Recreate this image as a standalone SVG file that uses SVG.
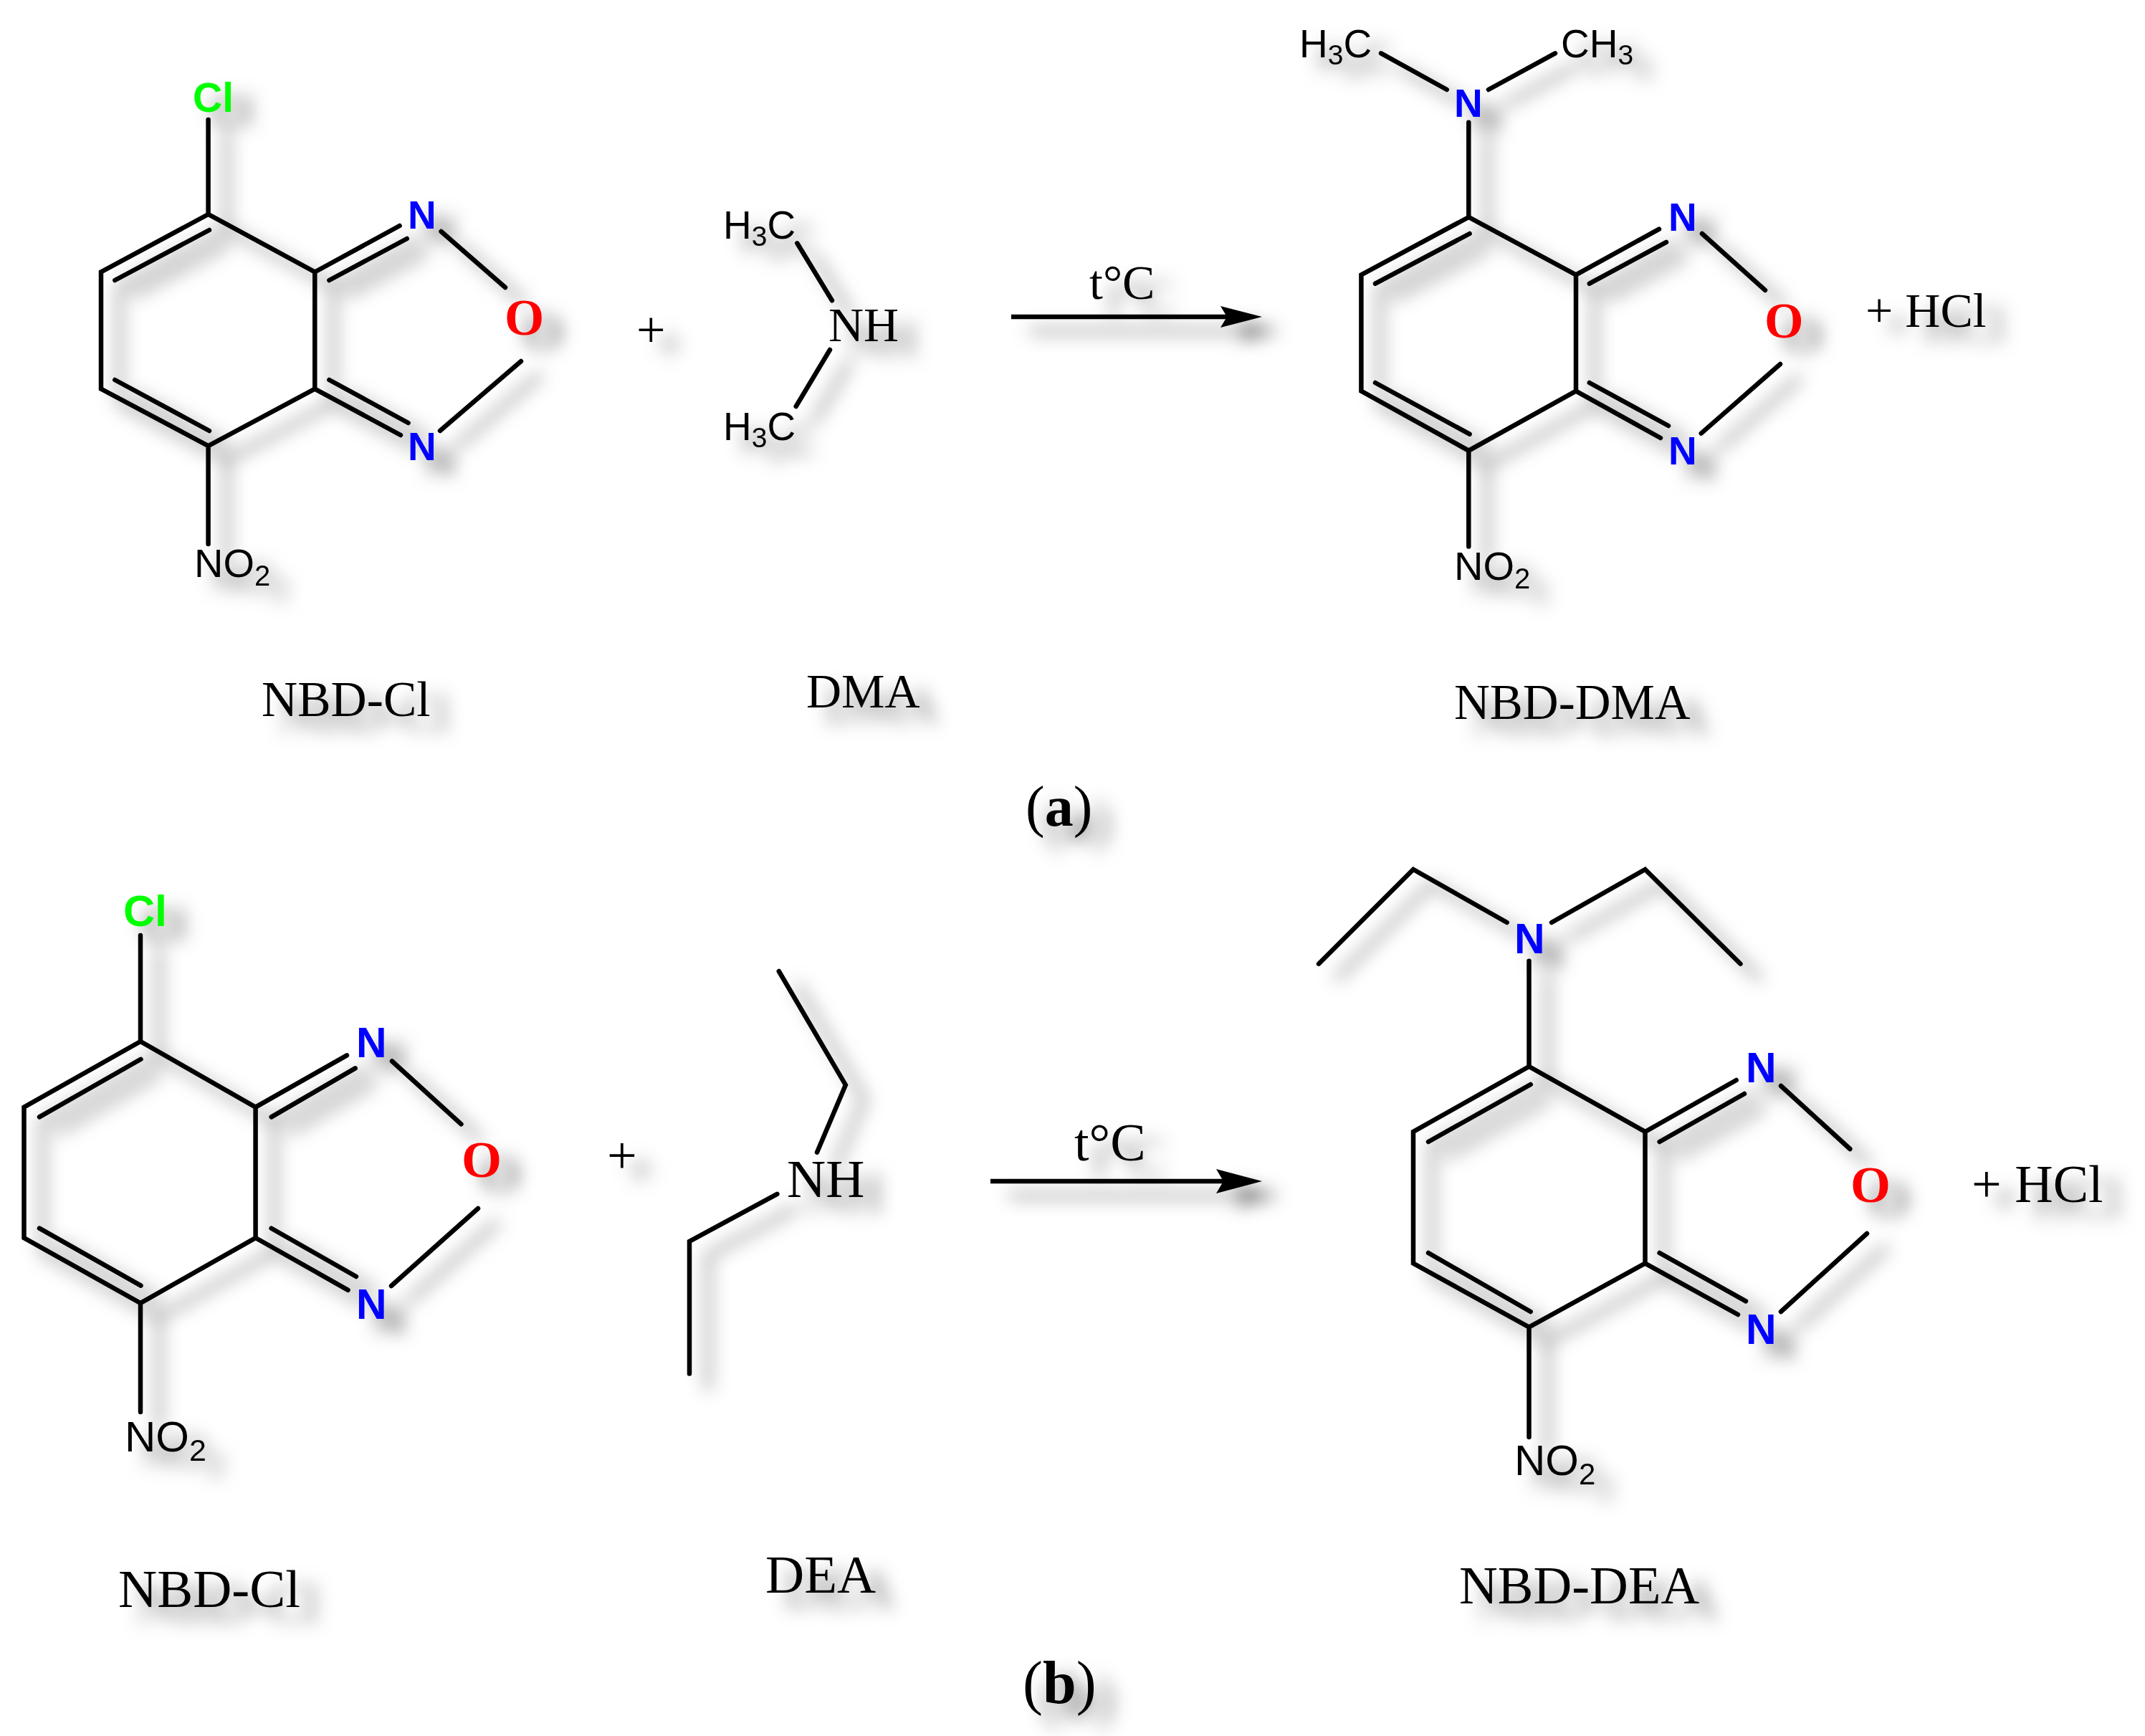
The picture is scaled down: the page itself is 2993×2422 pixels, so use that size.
<svg xmlns="http://www.w3.org/2000/svg" width="2993" height="2422" viewBox="0 0 2993 2422">
<style>
.b{fill:none;stroke:#000;stroke-width:6.5;stroke-linecap:round;stroke-linejoin:miter}
.a{fill:none;stroke:#000;stroke-width:6.5}
.s{font-family:"Liberation Sans",Arial,sans-serif;fill:#000}
.t{font-family:"Liberation Serif","Times New Roman",serif;fill:#000}
.n{font-family:"Liberation Sans",Arial,sans-serif;font-weight:700;fill:#0000ff}
.c{font-family:"Liberation Sans",Arial,sans-serif;font-weight:700;fill:#00ff00}
.o{font-family:"Liberation Serif","Times New Roman",serif;font-weight:700;fill:#ff0000}
.sh{filter:url(#shadow)}
</style>
<defs>
<filter id="shadow" filterUnits="userSpaceOnUse" x="0" y="0" width="2993" height="2422" color-interpolation-filters="sRGB">
<feDropShadow dx="26" dy="20" stdDeviation="12" flood-color="#000" flood-opacity="0.5"/>
</filter>
<marker id="head-a" markerUnits="userSpaceOnUse" markerWidth="60" markerHeight="32" refX="9" refY="16" orient="auto" overflow="visible"><path d="M0 1L9 16L0 31L58 16Z" fill="#000"/></marker>
<marker id="head-b" markerUnits="userSpaceOnUse" markerWidth="66" markerHeight="34" refX="10" refY="17" orient="auto" overflow="visible"><path d="M0 0L10 17L0 34L64 17Z" fill="#000"/></marker>
</defs>
<rect width="2993" height="2422" fill="#fff"/>

<g id="connectors">
<g class="sh"><line class="a" x1="1411" y1="442" x2="1712" y2="442" marker-end="url(#head-a)"/></g>
<g class="sh"><line class="a" x1="1382" y1="1648" x2="1707" y2="1648" marker-end="url(#head-b)"/></g>
</g>

<g id="nbd-cl-a" class="sh">
<path class="b" d="M290.6 299L141 379.5V542.6L290.6 622L439.3 542.6V379.5ZM290.6 167V299M290.6 622V759M160.3 391L292 321M160.3 530L292 601M439.3 379.5L557.6 315M459.4 391L567.8 333M439.3 542.6L559 607M459.4 530L569.6 590M615.6 323L705 401M727 504L614 601"/>
<text class="c" x="269" y="155.6" font-size="57">Cl</text>
<text class="n" x="569" y="319" font-size="55">N</text>
<text class="n" x="569" y="642" font-size="55">N</text>
<text class="o" x="704" y="467" font-size="71">O</text>
<text class="s" x="271" y="805" font-size="56">NO<tspan font-size="40" dy="12">2</tspan></text>
</g>

<g id="dma" class="sh">
<path class="b" d="M1112.3 339.3L1161 419.3M1158 488L1110.7 567"/>
<text class="s" x="1009" y="333.3" font-size="55">H<tspan font-size="39" dy="10">3</tspan><tspan dy="-10">C</tspan></text>
<text class="t" x="1156" y="476" font-size="68">NH</text>
<text class="s" x="1009" y="614" font-size="55">H<tspan font-size="39" dy="10">3</tspan><tspan dy="-10">C</tspan></text>
</g>

<g id="nbd-dma" class="sh">
<path class="b" d="M2049.3 303L1899.4 383.4V545.7L2049.3 628.7L2199 545.7V383.4ZM2049.3 170.7V303M2049.3 628.7V762.6M1919 395.7L2050.6 326M1919 534L2050.6 605.7M2199 383.4L2315 319.6M2217.8 395.7L2325 337.8M2199 545.7L2317 611M2217.8 534L2328 594M2375 326L2463 404.8M2484 508L2373.7 604.6M1927 74.3L2018.8 125M2077 125L2170 74.3"/>
<text class="n" x="2328" y="322" font-size="55">N</text>
<text class="n" x="2328" y="647.5" font-size="55">N</text>
<text class="n" x="2029" y="162.7" font-size="55">N</text>
<text class="o" x="2462" y="471" font-size="70">O</text>
<text class="s" x="1813" y="79.6" font-size="55">H<tspan font-size="39" dy="10">3</tspan><tspan dy="-10">C</tspan></text>
<text class="s" x="2178" y="79.6" font-size="55">CH<tspan font-size="39" dy="10">3</tspan></text>
<text class="s" x="2029" y="809" font-size="56">NO<tspan font-size="40" dy="12">2</tspan></text>
</g>

<g id="plus-a" class="sh"><text class="t" x="888" y="484" font-size="72">+</text></g>
<g id="plus-b" class="sh"><text class="t" x="847" y="1637" font-size="74">+</text></g>
<g id="hcl-a" class="sh"><text class="t" x="2603" y="456" font-size="68">+ HCl</text></g>
<g id="hcl-b" class="sh"><text class="t" x="2751" y="1676.7" font-size="74">+ HCl</text></g>
<g id="cond-a" class="sh"><text class="t" x="1520" y="417" font-size="68">t°C</text></g>
<g id="cond-b" class="sh"><text class="t" x="1499" y="1619" font-size="74">t°C</text></g>

<g id="label-nbd-cl-a" class="sh"><text class="t" x="365" y="999" font-size="69.5">NBD-Cl</text></g>
<g id="label-dma" class="sh"><text class="t" x="1125" y="987" font-size="68">DMA</text></g>
<g id="label-nbd-dma" class="sh"><text class="t" x="2029" y="1003" font-size="69">NBD-DMA</text></g>
<g id="label-a" class="sh"><text class="t" x="1431" y="1152" font-size="80">(<tspan font-weight="700">a</tspan>)</text></g>

<g id="nbd-cl-b" class="sh">
<path class="b" d="M196 1453L33.5 1544.7V1727L196 1818L356.6 1727V1544.7ZM196 1305V1453M196 1818V1970M55 1558.4L196.5 1477.8M55 1713.7L196.5 1793.7M356.6 1544.7L484 1472.3M378.7 1558.4L495.7 1490.4M356.6 1727L485.6 1799.8M378.7 1713.7L497 1781M547 1480.5L643.5 1568.3M667 1686L546 1794"/>
<text class="c" x="172" y="1292.4" font-size="61">Cl</text>
<text class="n" x="497" y="1475" font-size="59">N</text>
<text class="n" x="497" y="1840" font-size="59">N</text>
<text class="o" x="644" y="1642" font-size="72">O</text>
<text class="s" x="174" y="2024.6" font-size="60">NO<tspan font-size="43" dy="13">2</tspan></text>
</g>

<g id="dea" class="sh">
<path class="b" d="M1086.8 1355L1179.9 1513.7L1140 1607.7M1084.4 1665.8L962 1732V1916.6"/>
<text class="t" x="1098" y="1669.7" font-size="75">NH</text>
</g>

<g id="nbd-dea" class="sh">
<path class="b" d="M2133.5 1488L1972 1579V1762.6L2133.5 1851.6L2295.5 1762.6V1579ZM2133.5 1340.7V1488M2133.5 1851.6V2005M1993 1593L2135.7 1513M1993 1748L2135.7 1830M2295.5 1579L2422.7 1507M2315.6 1593L2434 1526M2295.5 1762.6L2425 1834M2315.6 1748L2436 1815.4M2485 1515L2581.4 1603M2605 1721L2485 1830M1840 1344.7L1972 1213L2102.7 1287M2165 1287L2295.5 1213L2428.5 1344.7"/>
<text class="n" x="2113" y="1330" font-size="59">N</text>
<text class="n" x="2436" y="1510" font-size="59">N</text>
<text class="n" x="2436" y="1875" font-size="59">N</text>
<text class="o" x="2582" y="1677" font-size="72">O</text>
<text class="s" x="2113" y="2058" font-size="60">NO<tspan font-size="42" dy="13">2</tspan></text>
</g>

<g id="label-nbd-cl-b" class="sh"><text class="t" x="165" y="2242" font-size="75">NBD-Cl</text></g>
<g id="label-dea" class="sh"><text class="t" x="1068" y="2222" font-size="75">DEA</text></g>
<g id="label-nbd-dea" class="sh"><text class="t" x="2036" y="2237" font-size="74.5">NBD-DEA</text></g>
<g id="label-b" class="sh"><text class="t" x="1427" y="2376" font-size="84">(<tspan font-weight="700">b</tspan>)</text></g>
</svg>
